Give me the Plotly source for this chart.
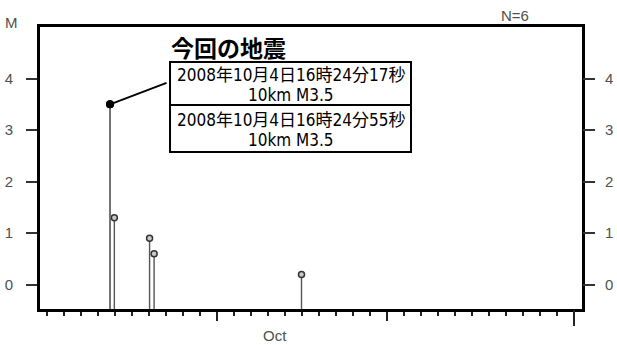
import plotly.graph_objects as go

# Earthquake list (origin time, magnitude)
event_times = [
    "2008-10-04 16:24:17",
    "2008-10-04 16:24:55",
    "2008-10-04 22:30:00",
    "2008-10-07 00:15:00",
    "2008-10-07 06:40:00",
    "2008-10-15 22:50:00",
]
magnitudes = [3.5, 3.5, 1.3, 0.9, 0.6, 0.2]

# Detail boxes for the featured events
box_lines_1 = ["2008年10月4日16時24分17秒", "10km M3.5"]
box_lines_2 = ["2008年10月4日16時24分55秒", "10km M3.5"]
headline = "今回の地震"
count_label = "N=6"
y_title = "M"
month_label = "Oct"

y_ticks = [0, 1, 2, 3, 4]
major_x_ticks = ["2008-10-11", "2008-10-21"]
month_edge_ticks = ["2008-11-01"]
x_range = ["2008-09-30 13:30", "2008-11-01 11:00"]
y_range = [-0.47, 5.0]

TICK_FONT = dict(family="Liberation Sans, Arial, sans-serif", size=15, color="#505050")
JP_FONT = "Noto Sans CJK JP"
BOX_FONT = "Liberation Sans Narrow, DejaVu Sans Condensed, Noto Sans CJK JP"

fig = go.Figure()

# Stems drawn down to the axis floor, with the featured events as black dots
stem_depth = [m - y_range[0] for m in magnitudes]
main_idx = [0, 1]
other_idx = [2, 3, 4, 5]

fig.add_trace(go.Scatter(
    x=[event_times[i] for i in other_idx],
    y=[magnitudes[i] for i in other_idx],
    mode="markers",
    marker=dict(symbol="circle", size=6, color="#c8c8c8",
                line=dict(color="#333333", width=1.5)),
    error_y=dict(type="data", symmetric=False,
                 array=[0] * len(other_idx),
                 arrayminus=[stem_depth[i] for i in other_idx],
                 width=0, thickness=1.4, color="#555555"),
    hoverinfo="skip", showlegend=False,
))
fig.add_trace(go.Scatter(
    x=[event_times[i] for i in main_idx],
    y=[magnitudes[i] for i in main_idx],
    mode="markers",
    marker=dict(symbol="circle", size=8, color="#000000"),
    error_y=dict(type="data", symmetric=False,
                 array=[0] * len(main_idx),
                 arrayminus=[stem_depth[i] for i in main_idx],
                 width=0, thickness=1.4, color="#666666"),
    hoverinfo="skip", showlegend=False,
))
# Carrier trace for the right-hand magnitude axis and the month-edge tick axis
fig.add_trace(go.Scatter(
    x=event_times, y=magnitudes, mode="none",
    xaxis="x2", yaxis="y2", hoverinfo="skip", showlegend=False,
))

fig.update_layout(
    width=617, height=345,
    margin=dict(l=40, r=35, t=27, b=36, autoexpand=False),
    paper_bgcolor="white", plot_bgcolor="white",
    showlegend=False,
    xaxis=dict(
        type="date", range=x_range, automargin=False,
        showgrid=False, zeroline=False,
        showline=True, linecolor="black", linewidth=3, mirror=True,
        tickmode="array", tickvals=major_x_ticks, showticklabels=False,
        ticks="outside", ticklen=9, tickwidth=1.5, tickcolor="#222222",
        minor=dict(dtick=86400000, ticks="outside", ticklen=4,
                   tickwidth=1.5, tickcolor="#222222", showgrid=False),
    ),
    xaxis2=dict(
        type="date", overlaying="x", matches="x", anchor="y", side="bottom",
        automargin=False,
        showgrid=False, zeroline=False, showline=False,
        tickmode="array", tickvals=month_edge_ticks, showticklabels=False,
        ticks="outside", ticklen=16, tickwidth=1.5, tickcolor="#222222",
    ),
    yaxis=dict(
        range=y_range, automargin=False, showgrid=False, zeroline=False,
        showline=True, linecolor="black", linewidth=3, mirror=True,
        tickmode="array", tickvals=y_ticks,
        ticks="outside", ticklen=11, tickwidth=1.5, tickcolor="#333333",
        tickfont=TICK_FONT, ticklabelstandoff=10,
    ),
    yaxis2=dict(
        range=y_range, overlaying="y", matches="y", side="right", anchor="x",
        automargin=False,
        showgrid=False, zeroline=False, showline=False,
        tickmode="array", tickvals=y_ticks,
        ticks="outside", ticklen=12, tickwidth=1.5, tickcolor="#333333",
        tickfont=TICK_FONT, ticklabelstandoff=7,
    ),
)

# Leader line from the featured event to its detail box
fig.add_annotation(
    x=event_times[0], y=magnitudes[0], xref="x", yref="y",
    text="", showarrow=True, arrowhead=0, arrowwidth=2, arrowcolor="black",
    ax=58, ay=-22, standoff=0, startstandoff=0,
)

# Detail boxes
box_x0, box_x1 = 0.2399, 0.6845
box_edges = [0.8759, 0.7234, 0.5567]
for top, bottom in zip(box_edges[:-1], box_edges[1:]):
    fig.add_shape(type="rect", xref="paper", yref="paper",
                  x0=box_x0, x1=box_x1, y0=bottom, y1=top,
                  line=dict(color="black", width=2), fillcolor="white", layer="above")

text_x = (box_x0 + box_x1) / 2
line_ys = [0.8298, 0.7589, 0.6702, 0.5993]
for txt, yy in zip(box_lines_1 + box_lines_2, line_ys):
    fig.add_annotation(x=text_x, y=yy, xref="paper", yref="paper",
                       text=txt, showarrow=False, xanchor="center", yanchor="middle",
                       font=dict(family=BOX_FONT, size=17, color="black"))

fig.add_annotation(x=0.3469, y=0.9291, xref="paper", yref="paper",
                   text=f"<b>{headline}</b>", showarrow=False,
                   xanchor="center", yanchor="middle",
                   font=dict(family=JP_FONT, size=23, color="black"))

fig.add_annotation(x=-0.0517, y=1.015, xref="paper", yref="paper",
                   text=y_title, showarrow=False, xanchor="center", yanchor="middle",
                   font=TICK_FONT)
fig.add_annotation(x=0.8764, y=1.04, xref="paper", yref="paper",
                   text=count_label, showarrow=False, xanchor="center", yanchor="middle",
                   font=TICK_FONT)
fig.add_annotation(x="2008-10-14 09:20", y=-0.0922, xref="x", yref="paper",
                   text=month_label, showarrow=False, xanchor="center", yanchor="middle",
                   font=TICK_FONT)

fig.write_html("out.html")
